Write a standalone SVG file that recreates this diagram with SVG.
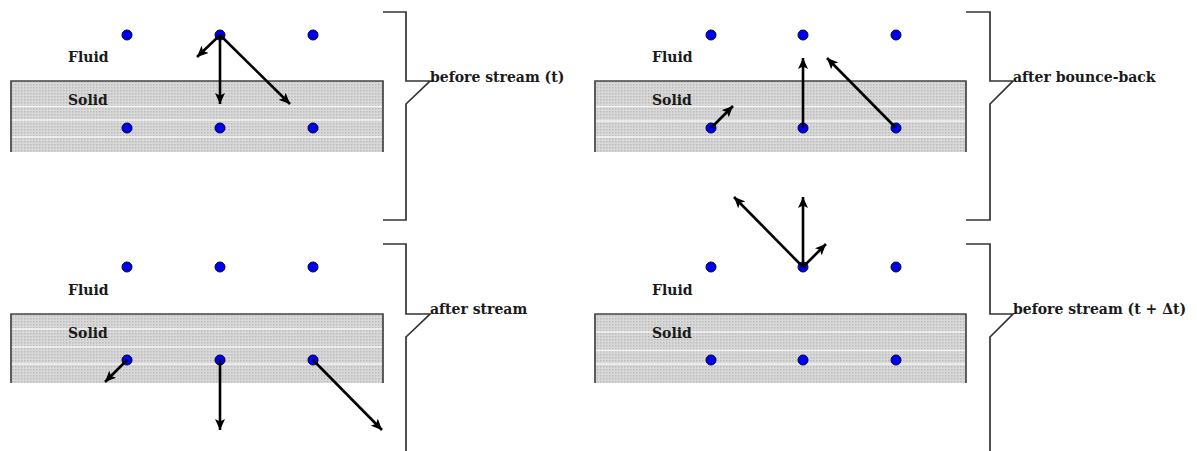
<svg xmlns="http://www.w3.org/2000/svg" width="1197" height="451" viewBox="0 0 1197 451">
<defs>
<style>
.lbl{font-family:"DejaVu Serif","Liberation Serif",serif;font-weight:bold;font-size:14px;fill:#1a1a1a}
.stripe{stroke:#f4f4f4;stroke-width:1.5}
.edge{fill:none;stroke:#444;stroke-width:1.7}
.dot{fill:#0000f0;stroke:#00003a;stroke-width:1}
.br{fill:none;stroke:#333;stroke-width:1.7}
.arr{stroke:#000;stroke-width:2.6;fill:none;marker-end:url(#ah)}
</style>
<pattern id="hatch" width="3" height="3" patternUnits="userSpaceOnUse">
<rect width="3" height="3" fill="#d8d8d8"/>
<rect width="1.5" height="1.5" fill="#bcbcbc"/>
</pattern>
<marker id="ah" markerUnits="userSpaceOnUse" markerWidth="12" markerHeight="10" refX="11" refY="5" orient="auto">
<path d="M0,0 L11,5 L0,10 L2.5,5 Z" fill="#000"/>
</marker>
</defs>
<rect width="1197" height="451" fill="#fff"/>

<g id="panel-before-stream">
<rect x="11" y="81" width="372" height="71" fill="url(#hatch)"/>
<line class="stripe" x1="11" y1="106.5" x2="383" y2="106.5"/>
<line class="stripe" x1="11" y1="120" x2="383" y2="120"/>
<line class="stripe" x1="11" y1="137" x2="383" y2="137"/>
<path class="edge" d="M11,152 V81 H383 V152"/>
<text class="lbl" x="68" y="62">Fluid</text>
<text class="lbl" x="68" y="105">Solid</text>
<circle class="dot" cx="127" cy="35" r="5"/><circle class="dot" cx="220" cy="35" r="5"/><circle class="dot" cx="313" cy="35" r="5"/>
<circle class="dot" cx="127" cy="128" r="5"/><circle class="dot" cx="220" cy="128" r="5"/><circle class="dot" cx="313" cy="128" r="5"/>
<path class="br" d="M383,12 H406 V81 H430 L406,104 V220 H383"/>
<text class="lbl" x="430" y="82">before stream (t)</text>
</g>

<g id="panel-after-bounce-back">
<rect x="595" y="81" width="371" height="71" fill="url(#hatch)"/>
<line class="stripe" x1="595" y1="106.5" x2="966" y2="106.5"/>
<line class="stripe" x1="595" y1="121" x2="966" y2="121"/>
<line class="stripe" x1="595" y1="137" x2="966" y2="137"/>
<path class="edge" d="M595,152 V81 H966 V152"/>
<text class="lbl" x="652" y="62">Fluid</text>
<text class="lbl" x="652" y="105">Solid</text>
<circle class="dot" cx="711" cy="35" r="5"/><circle class="dot" cx="803" cy="35" r="5"/><circle class="dot" cx="896" cy="35" r="5"/>
<circle class="dot" cx="711" cy="128" r="5"/><circle class="dot" cx="803" cy="128" r="5"/><circle class="dot" cx="896" cy="128" r="5"/>
<path class="br" d="M966,12 H990 V81 H1013 L990,104 V220 H966"/>
<text class="lbl" x="1013" y="82">after bounce-back</text>
</g>

<g id="panel-after-stream">
<rect x="11" y="314" width="372" height="69" fill="url(#hatch)"/>
<line class="stripe" x1="11" y1="329" x2="383" y2="329"/>
<line class="stripe" x1="11" y1="347" x2="383" y2="347"/>
<line class="stripe" x1="11" y1="364" x2="383" y2="364"/>
<path class="edge" d="M11,383 V314 H383 V383"/>
<text class="lbl" x="68" y="295">Fluid</text>
<text class="lbl" x="68" y="338">Solid</text>
<circle class="dot" cx="127" cy="267" r="5"/><circle class="dot" cx="220" cy="267" r="5"/><circle class="dot" cx="313" cy="267" r="5"/>
<circle class="dot" cx="127" cy="360" r="5"/><circle class="dot" cx="220" cy="360" r="5"/><circle class="dot" cx="313" cy="360" r="5"/>
<path class="br" d="M383,244 H406 V314 H430 L406,337 V451"/>
<text class="lbl" x="430" y="314">after stream</text>
</g>

<g id="panel-before-stream-next">
<rect x="595" y="314" width="371" height="69" fill="url(#hatch)"/>
<line class="stripe" x1="595" y1="332" x2="966" y2="332"/>
<line class="stripe" x1="595" y1="350.5" x2="966" y2="350.5"/>
<line class="stripe" x1="595" y1="364" x2="966" y2="364"/>
<path class="edge" d="M595,383 V314 H966 V383"/>
<text class="lbl" x="652" y="295">Fluid</text>
<text class="lbl" x="652" y="338">Solid</text>
<circle class="dot" cx="711" cy="267" r="5"/><circle class="dot" cx="803" cy="267" r="5"/><circle class="dot" cx="896" cy="267" r="5"/>
<circle class="dot" cx="711" cy="360" r="5"/><circle class="dot" cx="803" cy="360" r="5"/><circle class="dot" cx="896" cy="360" r="5"/>
<path class="br" d="M966,244 H990 V314 H1013 L990,337 V451"/>
<text class="lbl" x="1013" y="314">before stream (t + Δt)</text>
</g>

<g id="connectors">
<line class="arr" x1="220" y1="35" x2="197" y2="57"/>
<line class="arr" x1="220" y1="35" x2="220" y2="104"/>
<line class="arr" x1="220" y1="35" x2="290" y2="104"/>
<line class="arr" x1="711" y1="128" x2="733" y2="106"/>
<line class="arr" x1="803" y1="128" x2="803" y2="58"/>
<line class="arr" x1="896" y1="128" x2="827" y2="58"/>
<line class="arr" x1="127" y1="360" x2="105" y2="382"/>
<line class="arr" x1="220" y1="360" x2="220" y2="430"/>
<line class="arr" x1="313" y1="360" x2="382" y2="430"/>
<line class="arr" x1="803" y1="267" x2="734" y2="197"/>
<line class="arr" x1="803" y1="267" x2="803" y2="197"/>
<line class="arr" x1="803" y1="267" x2="826" y2="244"/>
</g>
</svg>
